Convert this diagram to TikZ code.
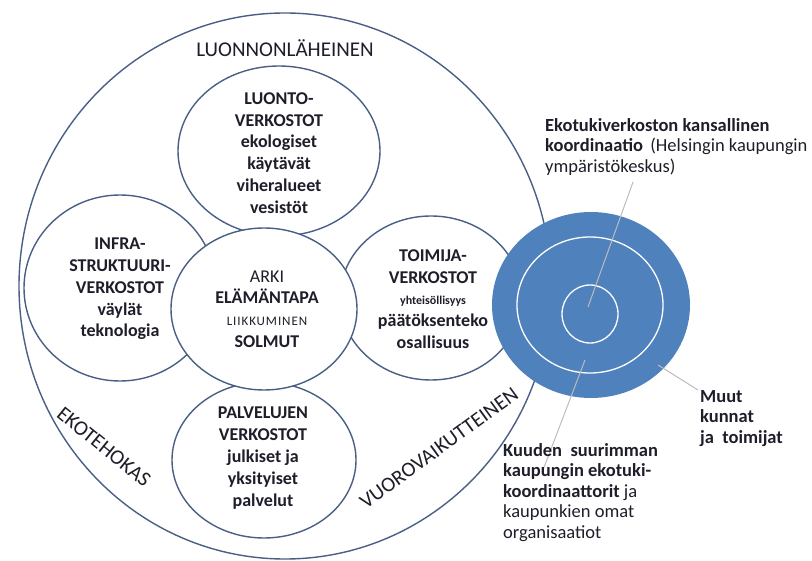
\documentclass[tikz,border=0pt]{standalone}
\usepackage{fontspec}
\setmainfont{Carlito}
\usetikzlibrary{shapes.geometric}
\definecolor{ring}{HTML}{4A5F85}
\definecolor{blueF}{HTML}{4F81BD}
\definecolor{txt}{HTML}{1E1E2A}
\definecolor{lead}{HTML}{BCBCBC}
\begin{document}
\begin{tikzpicture}[x=1pt,y=-1pt,
  circ/.style={ellipse, draw=ring, line width=1.4pt, fill=white, inner sep=0pt},
  ctext/.style={align=center, text=txt, inner sep=0pt, font=\fontsize{18}{21.8}\selectfont\bfseries},
  big/.style={text=txt, inner sep=0pt, font=\fontsize{21}{24}\selectfont},
  lbl/.style={align=left, text=txt, inner sep=0pt, font=\fontsize{18.5}{20.6}\selectfont},
  wring/.style={ellipse, draw=white, line width=1.3pt, inner sep=0pt},
  leadline/.style={draw=lead, line width=1pt}]
\useasboundingbox (0,0) rectangle (812,561);
% circles
\node[circ, minimum width=532, minimum height=546] (outer) at (285,286) {};
\node[circ, minimum width=202, minimum height=170] (luonto) at (279,151) {};
\node[circ, minimum width=192, minimum height=186] (infra) at (120,288) {};
\node[circ, minimum width=182, minimum height=164] (toimija) at (431,298) {};
\node[circ, minimum width=184, minimum height=156] (palvelu) at (264,460) {};
\node[circ, minimum width=186, minimum height=162] (arki) at (264,309) {};
% blue target
\node[ellipse, fill=blueF, inner sep=0pt, minimum width=198, minimum height=186] (blue) at (591,305) {};
\node[wring, minimum width=146, minimum height=136] (mid) at (590,305) {};
\node[wring, minimum width=56, minimum height=58] (core) at (590,314) {};
% circle texts
\node[big] (lh) at (285,48) {LUONNONLÄHEINEN};
\node[ctext] (luontoT) at (279,153) {LUONTO-\\VERKOSTOT\\ekologiset\\käytävät\\viheralueet\\vesistöt};
\node[ctext] (infraT) at (120,289) {INFRA-\\STRUKTUURI-\\VERKOSTOT\\väylät\\teknologia};
\node[ctext] (arkiT) at (267,309) {\mdseries ARKI\\ELÄMÄNTAPA\\{\fontsize{13}{14}\selectfont\mdseries\addfontfeatures{LetterSpace=7}LIIKKUMINEN}\\SOLMUT};
\node[ctext] (toimijaT) at (433,299) {TOIMIJA-\\VERKOSTOT\\{\fontsize{12}{14}\selectfont yhteisöllisyys}\\päätöksenteko\\osallisuus};
\node[ctext] (palveluT) at (263,458) {PALVELUJEN\\VERKOSTOT\\julkiset ja\\yksityiset\\palvelut};
\node[big, rotate=-39] (eko) at (104,447) {EKOTEHOKAS};
\node[big, rotate=36] (vuoro) at (439,448) {VUOROVAIKUTTEINEN};
% leaders
\coordinate (l1a) at (588,307);
\coordinate (l1b) at (633,182);
\coordinate (l2a) at (585,360);
\coordinate (l2b) at (543,470);
\coordinate (l3a) at (658,365);
\coordinate (l3b) at (698,390);
\draw[leadline] (l1a) -- (l1b);
\draw[leadline] (l2a) -- (l2b);
\draw[leadline] (l3a) -- (l3b);
% labels
\node[lbl, anchor=north west] (nat) at (545,118) {\textbf{Ekotukiverkoston kansallinen}\\\textbf{koordinaatio}\ \,(Helsingin kaupungin\\ympäristökeskus)};
\node[lbl, anchor=north west] (muut) at (700,390) {\textbf{Muut}\\\textbf{kunnat}\\\textbf{ja\ \ toimijat}};
\node[lbl, anchor=north west] (kuud) at (503,443) {\textbf{Kuuden\ \ suurimman}\\\textbf{kaupungin ekotuki-}\\\textbf{koordinaattorit} ja\\kaupunkien omat\\organisaatiot};
\end{tikzpicture}
\end{document}
